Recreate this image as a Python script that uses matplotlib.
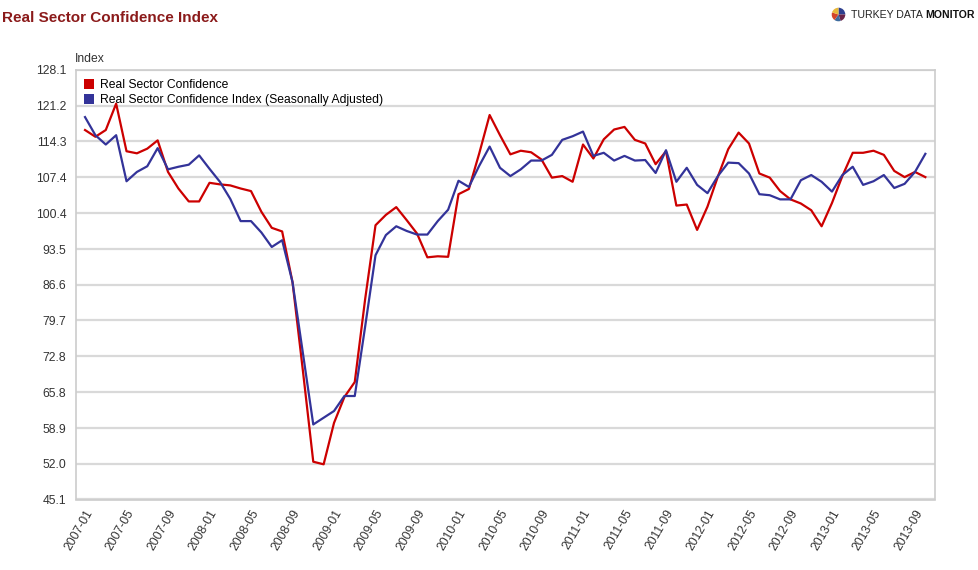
import matplotlib
matplotlib.use('Agg')
import matplotlib.pyplot as plt
from matplotlib.patches import Patch
from matplotlib.text import Annotation
import pandas as pd

plt.rcParams['font.family'] = ['Liberation Sans', 'DejaVu Sans']

# monthly series, 2007-01 .. 2013-10
months = pd.date_range('2007-01', periods=82, freq='MS').strftime('%Y-%m').tolist()

real_sector = [
    116.5, 115.2, 116.5, 121.6, 112.4, 112.0, 112.9, 114.5, 108.4, 105.2, 102.7, 102.7,
    106.3, 106.0, 105.8, 105.2, 104.7, 100.7, 97.6, 96.9, 87.1, 70.0, 52.4, 51.9,
    59.9, 64.9, 67.8, 83.8, 98.1, 100.1, 101.6, 99.1, 96.5, 91.9, 92.1, 92.0,
    104.1, 105.1, 112.0, 119.4, 115.5, 111.8, 112.5, 112.2, 110.8, 107.3, 107.6, 106.5,
    113.7, 111.0, 114.7, 116.6, 117.1, 114.6, 113.9, 109.9, 112.4, 101.9, 102.1, 97.2,
    101.7, 107.5, 112.8, 116.0, 113.9, 108.1, 107.3, 104.7, 103.1, 102.3, 101.0, 97.9,
    102.4, 107.6, 112.1, 112.1, 112.5, 111.7, 108.6, 107.4, 108.4, 107.4,
]

real_sector_sa = [
    119.0, 115.5, 113.7, 115.5, 106.6, 108.4, 109.5, 113.0, 108.9, 109.4, 109.8, 111.6,
    109.0, 106.5, 103.2, 98.9, 98.9, 96.7, 93.9, 95.2, 87.1, 73.4, 59.6, 60.9,
    62.2, 65.1, 65.1, 78.5, 92.3, 96.2, 97.9, 97.0, 96.3, 96.3, 98.9, 101.1,
    106.7, 105.5, 109.6, 113.3, 109.2, 107.6, 108.9, 110.6, 110.6, 111.7, 114.6, 115.3,
    116.2, 111.5, 112.1, 110.6, 111.5, 110.6, 110.7, 108.2, 112.6, 106.5, 109.2, 105.9,
    104.3, 107.6, 110.2, 110.1, 108.1, 104.1, 103.9, 103.1, 103.1, 106.8, 107.8, 106.5,
    104.6, 107.8, 109.4, 105.9, 106.6, 107.8, 105.3, 106.1, 108.4, 111.9,
]

y_ticks = [45.1, 52.0, 58.9, 65.8, 72.8, 79.7, 86.6, 93.5, 100.4, 107.4, 114.3, 121.2, 128.1]

RED = '#cc0000'
BLUE = '#333399'

fig = plt.figure(figsize=(9.79, 5.70), dpi=100)
ax = fig.add_axes([76 / 979, 1 - 499.5 / 570, (935 - 76) / 979, (499.5 - 70) / 570])

x = list(range(len(months)))
ax.plot(x, real_sector, color=RED, lw=1.6, zorder=3)
ax.plot(x, real_sector_sa, color=BLUE, lw=1.6, zorder=3)

ax.set_xlim(-0.87, 81.93)
ax.set_ylim(45.1, 128.1)
ax.set_yticks(y_ticks)
ax.set_yticklabels([f'{v:.1f}' for v in y_ticks])
ax.set_xticks(x[::4])
ax.set_xticklabels(months[::4], rotation=60, ha='right', rotation_mode='anchor')
ax.tick_params(axis='both', length=0, labelsize=8.7, colors='#333333')
ax.tick_params(axis='y', pad=7)
ax.tick_params(axis='x', pad=6)

ax.grid(axis='y', color='#d9d9d9', lw=1.6)
ax.set_axisbelow(True)
for s in ax.spines.values():
    s.set_color('#cccccc')
    s.set_linewidth(1.2)

# legend with square markers
handles = [Patch(facecolor=RED, edgecolor='none', label='Real Sector Confidence'),
           Patch(facecolor=BLUE, edgecolor='none',
                 label='Real Sector Confidence Index (Seasonally Adjusted)')]
ax.legend(handles=handles, loc='upper left', frameon=False, fontsize=8.7,
          handlelength=0.8, handleheight=0.8, handletextpad=0.5, labelspacing=0.25,
          borderaxespad=0, bbox_to_anchor=(0.004, 0.99))

fig.text(75 / 979, 1 - 59 / 570, 'Index', fontsize=8.7, color='#333333', va='center')
fig.text(2 / 979, 1 - 18.5 / 570, 'Real Sector Confidence Index', fontsize=11,
         fontweight='bold', color='#8b1a1a', va='center')

# logo: small pie + name
lax = fig.add_axes([830 / 979, 1 - 23 / 570, 17 / 979, 17 / 570])
lax.pie([25, 20, 15, 20, 20], colors=['#2e3f8f', '#6b2448', '#3d6b9e', '#d2452a', '#e8b83a'],
        startangle=90, counterclock=False)
lax.set_aspect('equal')
t1 = fig.text(851 / 979, 1 - 15 / 570, 'TURKEY DATA ', fontsize=7.6, color='#222222',
              va='center')
fig.add_artist(Annotation('MONITOR', xy=(1, 0.5), xycoords=t1, va='center', ha='left',
                          fontsize=7.6, fontweight='bold', color='#111111'))

fig.savefig('out.png', dpi=100)
